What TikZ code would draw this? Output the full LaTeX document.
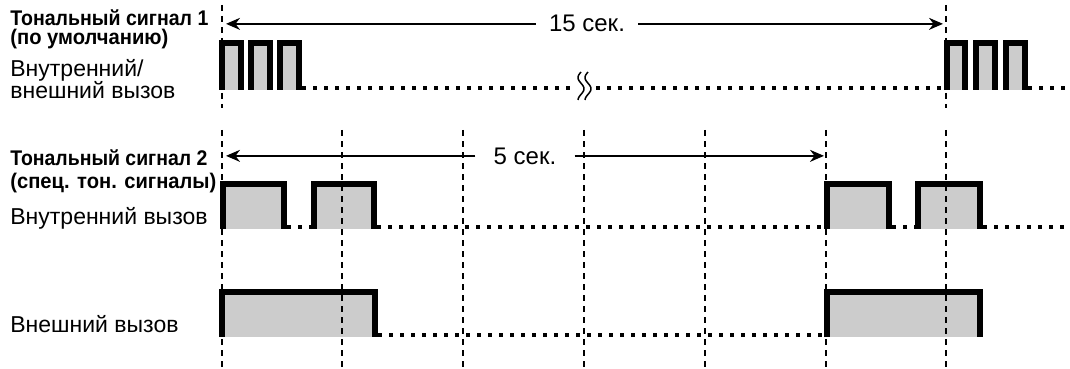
\documentclass[tikz,border=0pt]{standalone}
\usepackage{fontspec}
\setmainfont{Liberation Sans}
\usetikzlibrary{arrows.meta}
\definecolor{pfill}{RGB}{204,204,204}
\newcommand\widebold[2]{\resizebox{#1}{\height}{#2}}
\begin{document}
\begin{tikzpicture}[x=0.5pt,y=-0.5pt,
  lbl/.style={anchor=base west, inner sep=0pt, font=\fontsize{11.5}{13}\selectfont},
  blbl/.style={anchor=base west, inner sep=0pt, font=\fontsize{10.6}{12}\selectfont\bfseries},
  seklbl/.style={anchor=base, inner ysep=0pt, font=\fontsize{12}{14}\selectfont},
  guide/.style={line width=0.6pt, dash pattern=on 3pt off 2.5pt},
  pulse/.style={line width=2.6pt, line join=miter},
  dots/.style={line width=2pt, dash pattern=on 2pt off 3.5pt},
  arr/.style={line width=0.85pt, -{Stealth[length=7pt,width=6pt]}},
  squig/.style={line width=0.75pt}]
\useasboundingbox (0,0) rectangle (1070,369);

% fills
\foreach \a/\b in {222/241,251/270,280/299,947/965,976/995,1006/1025}
  \fill[pfill] (\a,43) rectangle (\b,90);
\foreach \a/\b in {223/284,314/374,827/889,918/980}
  \fill[pfill] (\a,184) rectangle (\b,229);
\foreach \a/\b in {222/375,827/980}
  \fill[pfill] (\a,292) rectangle (\b,337);

% guides
\foreach \x in {222,946}
  \draw[guide] (\x,5) -- (\x,108);
\foreach \x in {222,342,463,584,705,826,946}
  \draw[guide] (\x,130) -- (\x,369);

% pulse outlines
\foreach \a/\b in {222/241,251/270,280/299,947/965,976/995,1006/1025}
  \draw[pulse] (\a,90) -- (\a,43) -- (\b,43) -- (\b,90);
\foreach \a/\b in {223/284,314/374,827/889,918/980}
  \draw[pulse] (\a,229) -- (\a,184) -- (\b,184) -- (\b,229);
\foreach \a/\b in {222/375,827/980}
  \draw[pulse] (\a,337) -- (\a,292) -- (\b,292) -- (\b,337);

% dotted baselines
\draw[dots] (302,88) -- (572,88);
\draw[dots] (596,88) -- (944,88);
\draw[dots] (1028,88) -- (1070,88);
\draw[dots] (287,227) -- (311,227);
\draw[dots] (377,227) -- (824,227);
\draw[dots] (892,227) -- (915,227);
\draw[dots] (983,227) -- (1070,227);
\draw[dots] (378,335) -- (824,335);

% break mark
\draw[squig] plot[domain=0:1, samples=30, smooth] ({581-3*sin(450*\x)}, {72+28*\x});
\draw[squig] plot[domain=0:1, samples=30, smooth] ({588-3*sin(450*\x)}, {72+28*\x});

% labels
\node[blbl] (l1a) at (10,26) {\widebold{99pt}{Тональный сигнал 1}};
\node[blbl] (l1b) at (10,45) {\widebold{79pt}{(по умолчанию)}};
\node[lbl] (l1c) at (10,76) {Внутренний/};
\node[lbl] (l1d) at (10,98) {внешний вызов};
\node[blbl] (l2a) at (10,166) {\widebold{98.5pt}{Тональный сигнал 2}};
\node[blbl] (l2b) at (10,189) {\widebold{103pt}{(спец. тон. сигналы)}};
\node[lbl] (l2c) at (10,224) {Внутренний вызов};
\node[lbl] (l3) at (10,332) {Внешний вызов};

% time arrows
\node[seklbl, inner xsep=6.5pt] (t15) at (587,32) {15 сек.};
\coordinate (a15L) at (226,23);
\coordinate (a15R) at (943,23);
\draw[arr] (t15.west) -- (t15.west -| a15L);
\draw[arr] (t15.east) -- (t15.east -| a15R);

\node[seklbl, inner xsep=9pt] (t5) at (525,164) {5 сек.};
\coordinate (a5L) at (226,157);
\coordinate (a5R) at (824,157);
\draw[arr] (t5.west) -- (t5.west -| a5L);
\draw[arr] (t5.east) -- (t5.east -| a5R);
\end{tikzpicture}
\end{document}
